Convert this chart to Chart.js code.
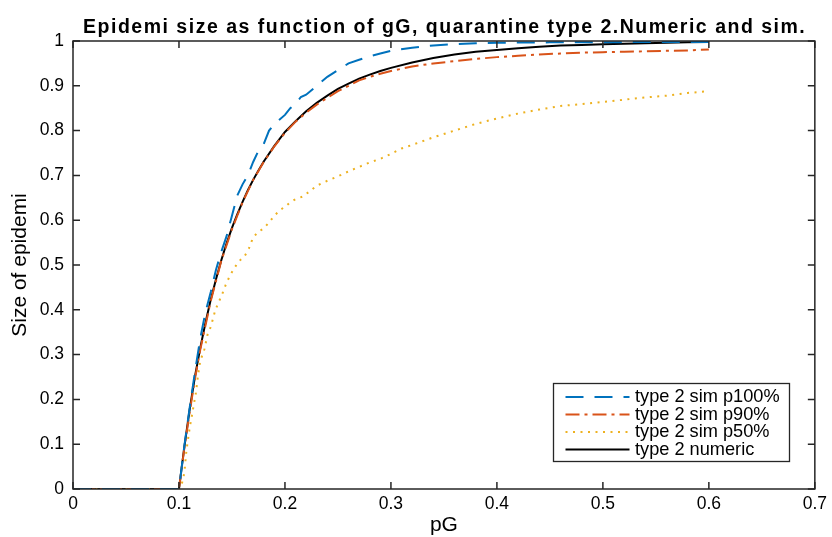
<!DOCTYPE html>
<html>
<head>
<meta charset="utf-8">
<script src="https://cdn.jsdelivr.net/npm/chart.js@4/dist/chart.umd.min.js"></script>
<style>
  html, body { margin: 0; padding: 0; background: #fff; }
  #wrap { width: 832px; height: 537px; }
</style>
</head>
<body>
<div id="wrap"><canvas id="c" width="832" height="537"></canvas></div>
<script>
// ---- data ----
const chartTitle = 'Epidemi size as function of gG, quarantine type 2.Numeric and sim.';
const xAxisTitle = 'pG';
const yAxisTitle = 'Size of epidemi';

const xTickValues = [0, 0.1, 0.2, 0.3, 0.4, 0.5, 0.6, 0.7];
const xTickLabels = ['0', '0.1', '0.2', '0.3', '0.4', '0.5', '0.6', '0.7'];
const yTickValues = [0, 0.1, 0.2, 0.3, 0.4, 0.5, 0.6, 0.7, 0.8, 0.9, 1];
const yTickLabels = ['0', '0.1', '0.2', '0.3', '0.4', '0.5', '0.6', '0.7', '0.8', '0.9', '1'];

const seriesNames = ['type 2 sim p100%', 'type 2 sim p90%', 'type 2 sim p50%', 'type 2 numeric'];

// simulation, 100% quarantine
const pG100 = [0, 0.1, 0.105, 0.11, 0.115, 0.12, 0.125, 0.13, 0.135, 0.14, 0.145, 0.15, 0.155, 0.16, 0.165, 0.17, 0.175, 0.18, 0.185, 0.19, 0.195, 0.2, 0.205, 0.21, 0.215, 0.22, 0.23, 0.24, 0.25, 0.26, 0.27, 0.28, 0.29, 0.3, 0.32, 0.34, 0.36, 0.38, 0.4, 0.45, 0.5, 0.55, 0.6];
const size100 = [0, 0, 0.095, 0.18, 0.26, 0.335, 0.395, 0.44, 0.49, 0.53, 0.565, 0.61, 0.655, 0.68, 0.70, 0.73, 0.755, 0.77, 0.80, 0.815, 0.825, 0.835, 0.85, 0.86, 0.875, 0.88, 0.90, 0.92, 0.935, 0.95, 0.958, 0.966, 0.972, 0.978, 0.985, 0.99, 0.993, 0.995, 0.996, 0.997, 0.997, 0.998, 0.998];

// simulation, 90% quarantine
const pG90 = [0, 0.1, 0.105, 0.11, 0.115, 0.12, 0.125, 0.13, 0.135, 0.14, 0.145, 0.15, 0.155, 0.16, 0.165, 0.17, 0.175, 0.18, 0.19, 0.2, 0.21, 0.22, 0.23, 0.24, 0.25, 0.26, 0.27, 0.28, 0.29, 0.3, 0.32, 0.34, 0.36, 0.38, 0.4, 0.42, 0.44, 0.46, 0.48, 0.5, 0.52, 0.54, 0.56, 0.58, 0.6];
const size90 = [0, 0, 0.09, 0.17, 0.245, 0.31, 0.365, 0.42, 0.465, 0.51, 0.545, 0.58, 0.61, 0.64, 0.665, 0.69, 0.71, 0.73, 0.765, 0.795, 0.82, 0.84, 0.858, 0.873, 0.888, 0.90, 0.912, 0.920, 0.927, 0.933, 0.943, 0.950, 0.955, 0.960, 0.964, 0.967, 0.970, 0.972, 0.974, 0.975, 0.976, 0.977, 0.978, 0.979, 0.981];

// simulation, 50% quarantine
const pG50 = [0, 0.1, 0.102, 0.105, 0.107, 0.11, 0.113, 0.116, 0.118, 0.12, 0.124, 0.127, 0.13, 0.134, 0.137, 0.14, 0.144, 0.148, 0.152, 0.156, 0.162, 0.166, 0.17, 0.175, 0.18, 0.185, 0.19, 0.195, 0.2, 0.205, 0.21, 0.217, 0.223, 0.23, 0.24, 0.25, 0.26, 0.27, 0.28, 0.29, 0.3, 0.31, 0.32, 0.34, 0.36, 0.38, 0.4, 0.42, 0.44, 0.46, 0.48, 0.5, 0.52, 0.54, 0.56, 0.58, 0.6];
const size50 = [0, 0, 0.005, 0.035, 0.085, 0.135, 0.175, 0.215, 0.255, 0.285, 0.312, 0.345, 0.362, 0.397, 0.415, 0.43, 0.455, 0.476, 0.492, 0.507, 0.52, 0.537, 0.562, 0.574, 0.582, 0.595, 0.61, 0.622, 0.63, 0.64, 0.647, 0.653, 0.664, 0.677, 0.688, 0.698, 0.709, 0.719, 0.729, 0.737, 0.748, 0.760, 0.768, 0.785, 0.800, 0.815, 0.827, 0.838, 0.847, 0.855, 0.859, 0.864, 0.869, 0.874, 0.878, 0.884, 0.888];

// numeric solution
const pGNum = [0, 0.1, 0.105, 0.11, 0.115, 0.12, 0.125, 0.13, 0.135, 0.14, 0.145, 0.15, 0.155, 0.16, 0.165, 0.17, 0.175, 0.18, 0.19, 0.2, 0.21, 0.22, 0.23, 0.24, 0.25, 0.26, 0.27, 0.28, 0.29, 0.3, 0.32, 0.34, 0.36, 0.38, 0.4, 0.42, 0.44, 0.46, 0.48, 0.5, 0.52, 0.54, 0.56, 0.58, 0.6];
const sizeNum = [0, 0, 0.093, 0.176, 0.25, 0.314, 0.371, 0.423, 0.469, 0.511, 0.549, 0.583, 0.613, 0.641, 0.667, 0.690, 0.711, 0.731, 0.766, 0.797, 0.821, 0.843, 0.862, 0.878, 0.893, 0.905, 0.916, 0.925, 0.933, 0.940, 0.952, 0.962, 0.970, 0.976, 0.980, 0.984, 0.987, 0.990, 0.991, 0.993, 0.994, 0.995, 0.996, 0.997, 0.998];

// ---- helpers ----
const pairs = (xs, ys) => xs.map((x, i) => ({ x: x, y: ys[i] }));
const AXIS = '#262626';
const FONT = '"Liberation Sans", Arial, Helvetica, sans-serif';

const datasets = [
  { label: seriesNames[0], data: pairs(pG100, size100), borderColor: '#0072BD', borderWidth: 2, borderDash: [18, 11] },
  { label: seriesNames[1], data: pairs(pG90, size90), borderColor: '#D95319', borderWidth: 2, borderDash: [14, 5, 3, 5] },
  { label: seriesNames[2], data: pairs(pG50, size50), borderColor: '#EDB120', borderWidth: 2, borderDash: [2, 5.5] },
  { label: seriesNames[3], data: pairs(pGNum, sizeNum), borderColor: '#000000', borderWidth: 2, borderDash: [] }
].map(d => Object.assign(d, { pointRadius: 0, pointHoverRadius: 0, tension: 0, fill: false, borderCapStyle: 'butt' }));

// axes box with inward ticks on all four sides, then title and legend
const framePlugin = {
  id: 'frame',
  afterDatasetsDraw(chart) {
    const { ctx, chartArea: a, scales } = chart;
    const tick = 7;
    ctx.save();
    ctx.strokeStyle = AXIS;
    ctx.lineWidth = 1.5;
    ctx.strokeRect(a.left, a.top, a.right - a.left, a.bottom - a.top);
    ctx.beginPath();
    xTickValues.forEach(v => {
      const px = scales.x.getPixelForValue(v);
      ctx.moveTo(px, a.bottom); ctx.lineTo(px, a.bottom - tick);
      ctx.moveTo(px, a.top); ctx.lineTo(px, a.top + tick);
    });
    yTickValues.forEach(v => {
      const py = scales.y.getPixelForValue(v);
      ctx.moveTo(a.left, py); ctx.lineTo(a.left + tick, py);
      ctx.moveTo(a.right, py); ctx.lineTo(a.right - tick, py);
    });
    ctx.stroke();
    ctx.restore();
  },
  afterDraw(chart) {
    const { ctx, chartArea: a } = chart;
    ctx.save();
    // title
    ctx.fillStyle = '#000';
    ctx.font = 'bold 19.5px ' + FONT;
    ctx.textAlign = 'center';
    ctx.textBaseline = 'alphabetic';
    if ('letterSpacing' in ctx) ctx.letterSpacing = '1.5px';
    ctx.fillText(chartTitle, (a.left + a.right) / 2 + 0.75, 32.5);
    if ('letterSpacing' in ctx) ctx.letterSpacing = '0px';

    // legend
    const bx = 553.5, by = 383.5, bw = 236, bh = 78;
    ctx.fillStyle = '#fff';
    ctx.fillRect(bx, by, bw, bh);
    ctx.strokeStyle = AXIS;
    ctx.lineWidth = 1.3;
    ctx.strokeRect(bx, by, bw, bh);
    ctx.font = '18.2px ' + FONT;
    ctx.textAlign = 'left';
    ctx.textBaseline = 'middle';
    chart.data.datasets.forEach((d, i) => {
      const y = by + 13.5 + i * 17.5;
      ctx.beginPath();
      ctx.strokeStyle = d.borderColor;
      ctx.lineWidth = d.borderWidth;
      ctx.setLineDash(d.borderDash);
      ctx.lineCap = 'butt';
      ctx.moveTo(bx + 12, y); ctx.lineTo(bx + 76, y);
      ctx.stroke();
      ctx.setLineDash([]);
      ctx.fillStyle = '#000';
      ctx.fillText(d.label, bx + 81.5, y);
    });
    ctx.restore();
  }
};

new Chart(document.getElementById('c'), {
  type: 'line',
  data: { datasets: datasets },
  options: {
    responsive: false,
    animation: false,
    events: [],
    layout: { padding: { left: 0, right: 12, top: 41, bottom: 0 } },
    plugins: { legend: { display: false }, title: { display: false }, tooltip: { enabled: false } },
    scales: {
      x: {
        type: 'linear', min: 0, max: 0.7,
        afterFit: s => { s.height = 48; },
        afterBuildTicks: s => { s.ticks = xTickValues.map(v => ({ value: v })); },
        grid: { display: false, drawTicks: false },
        border: { display: false },
        ticks: {
          padding: 5, color: '#000', maxRotation: 0, autoSkip: false,
          font: { family: FONT, size: 17.5 },
          callback: (v) => xTickLabels[xTickValues.indexOf(v)]
        },
        title: { display: true, text: xAxisTitle, color: '#000', font: { family: FONT, size: 21, lineHeight: 1.2 }, padding: { top: 0, bottom: -1 } }
      },
      y: {
        type: 'linear', min: 0, max: 1,
        afterFit: s => { s.width = 73; },
        afterBuildTicks: s => { s.ticks = yTickValues.map(v => ({ value: v })); },
        grid: { display: false, drawTicks: false },
        border: { display: false },
        ticks: {
          padding: 9, color: '#000', autoSkip: false,
          font: { family: FONT, size: 17.5 },
          callback: (v) => yTickLabels[yTickValues.indexOf(v)]
        },
        title: { display: true, text: yAxisTitle, color: '#000', font: { family: FONT, size: 21, lineHeight: 1.2 }, padding: { top: 8, bottom: 0 } }
      }
    }
  },
  plugins: [framePlugin]
});
</script>
</body>
</html>
